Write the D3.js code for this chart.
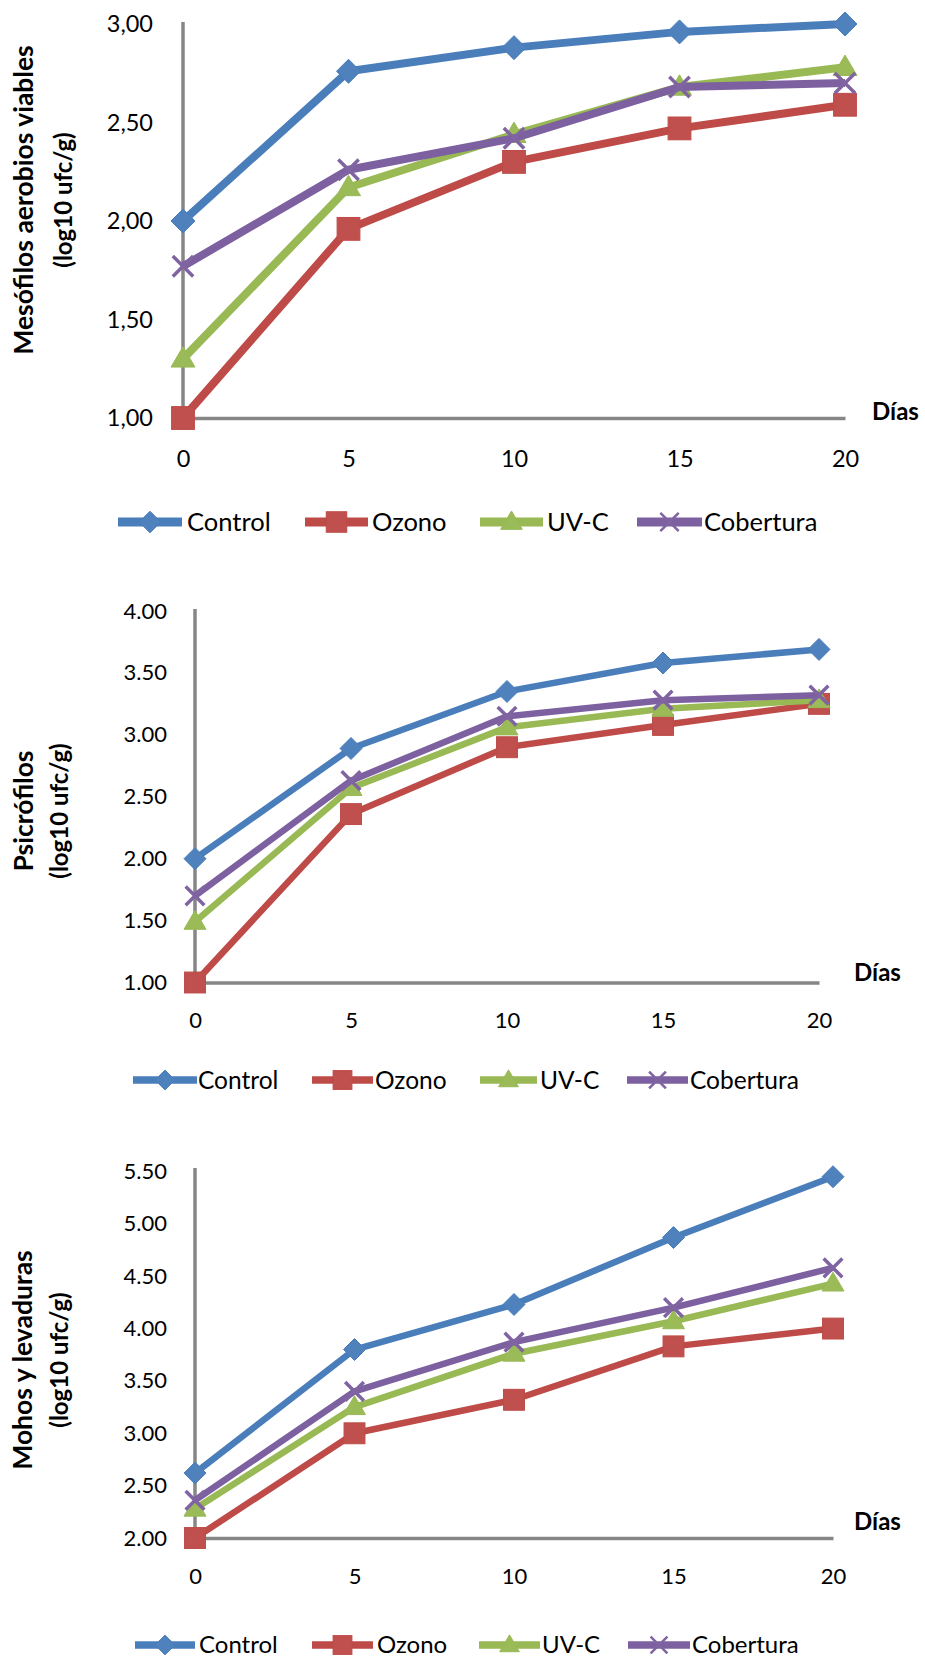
<!DOCTYPE html>
<html>
<head>
<meta charset="utf-8">
<script src="https://cdn.jsdelivr.net/npm/d3@7"></script>
<style>
  body { margin: 0; background: #fff; }
  svg text { font-family: Lato, "Open Sans", sans-serif; fill: #000; }
</style>
</head>
<body>
<div id="chart"></div>
<script>
// x values (días) and series names
const dias = [0, 5, 10, 15, 20];
const seriesNames = ["Control", "Ozono", "UV-C", "Cobertura"];

// Mesófilos aerobios viables
const mesoControl = [2.00, 2.76, 2.88, 2.96, 3.00];
const mesoOzono = [1.00, 1.96, 2.30, 2.47, 2.59];
const mesoUVC = [1.30, 2.17, 2.44, 2.68, 2.78];
const mesoCobertura = [1.77, 2.26, 2.42, 2.68, 2.70];

// Psicrófilos
const psicControl = [2.00, 2.89, 3.35, 3.58, 3.69];
const psicOzono = [1.00, 2.36, 2.90, 3.08, 3.25];
const psicUVC = [1.49, 2.57, 3.06, 3.21, 3.28];
const psicCobertura = [1.70, 2.63, 3.15, 3.28, 3.32];

// Mohos y levaduras
const mohoControl = [2.62, 3.80, 4.23, 4.87, 5.45];
const mohoOzono = [2.00, 3.00, 3.32, 3.83, 4.00];
const mohoUVC = [2.28, 3.25, 3.76, 4.07, 4.43];
const mohoCobertura = [2.36, 3.40, 3.87, 4.20, 4.58];

// tick values
const mesoTicks = [1.0, 1.5, 2.0, 2.5, 3.0];
const psicTicks = [1.0, 1.5, 2.0, 2.5, 3.0, 3.5, 4.0];
const mohoTicks = [2.0, 2.5, 3.0, 3.5, 4.0, 4.5, 5.0, 5.5];

const colors = ["#4a7ebb", "#be4b48", "#98b954", "#7d60a0"];
const markerFill = ["#4f81bd", "#c0504d", "#9bbb59", "#8064a2"];
const markers = ["diamond", "square", "triangle", "cross"];

const width = 925, height = 1659;

const svg = d3.select("#chart").append("svg")
    .attr("width", width)
    .attr("height", height);

const charts = [
    {
        title: ["Mesófilos aerobios viables", "(log10 ufc/g)"],
        data: [mesoControl, mesoOzono, mesoUVC, mesoCobertura],
        ticks: mesoTicks, comma: true,
        x0: 183, x1: 845, yTop: 24, yBot: 418, axisTop: 22,
        tickFont: 23.5, tickPad: 30, xLabelY: 459,
        diasX: 872, diasY: 420,
        titleX: [23, 62], titleY: 200,
        lineW: 8, mk: 24,
        legY: 522, legFont: 25.5,
        leg: [[118, 182, 187], [305, 368, 372], [480, 543, 547], [637, 702, 704]]
    },
    {
        title: ["Psicrófilos", "(log10 ufc/g)"],
        data: [psicControl, psicOzono, psicUVC, psicCobertura],
        ticks: psicTicks, comma: false,
        x0: 195, x1: 819, yTop: 611, yBot: 982.5, axisTop: 609,
        tickFont: 22, tickPad: 28, xLabelY: 1020,
        diasX: 854, diasY: 981,
        titleX: [23, 58], titleY: 811,
        lineW: 6.5, mk: 22,
        legY: 1080, legFont: 24.5,
        leg: [[133, 197, 198], [312, 373, 375], [480, 537, 540], [627, 688, 690]]
    },
    {
        title: ["Mohos y levaduras", "(log10 ufc/g)"],
        data: [mohoControl, mohoOzono, mohoUVC, mohoCobertura],
        ticks: mohoTicks, comma: false,
        x0: 195, x1: 833, yTop: 1171.5, yBot: 1538, axisTop: 1168,
        tickFont: 22, tickPad: 28, xLabelY: 1576,
        diasX: 854, diasY: 1530,
        titleX: [22, 58], titleY: 1360,
        lineW: 6.5, mk: 22,
        legY: 1645, legFont: 24,
        leg: [[135, 195, 199], [312, 373, 377], [479, 540, 542], [628, 690, 692]]
    }
];

const titleFont = [26.5, 24];

function drawMarker(g, type, cx, cy, size, i, sw) {
    const h = size / 2;
    if (type == "diamond") {
        g.append("path")
            .attr("d", `M${cx},${cy - h}L${cx + h},${cy}L${cx},${cy + h}L${cx - h},${cy}Z`)
            .attr("fill", markerFill[i]).attr("stroke", colors[i]).attr("stroke-width", 1);
    } else if (type == "square") {
        const s = h * 0.95;
        g.append("rect")
            .attr("x", cx - s).attr("y", cy - s)
            .attr("width", 2 * s).attr("height", 2 * s)
            .attr("fill", markerFill[i]).attr("stroke", colors[i]).attr("stroke-width", 1);
    } else if (type == "triangle") {
        const th = size * 0.85;
        g.append("path")
            .attr("d", `M${cx},${cy - th * 0.6}L${cx + h},${cy + th * 0.4}L${cx - h},${cy + th * 0.4}Z`)
            .attr("fill", markerFill[i]).attr("stroke", colors[i]).attr("stroke-width", 1);
    } else {
        const c = h * 0.85;
        g.append("path")
            .attr("d", `M${cx - c},${cy - c}L${cx + c},${cy + c}M${cx - c},${cy + c}L${cx + c},${cy - c}`)
            .attr("fill", "none").attr("stroke", markerFill[i]).attr("stroke-width", sw || 3.5);
    }
}

charts.forEach(function(c) {
    const g = svg.append("g");

    const x = d3.scaleLinear().domain([0, 20]).range([c.x0, c.x1]);
    const y = d3.scaleLinear().domain([c.ticks[0], c.ticks[c.ticks.length - 1]]).range([c.yBot, c.yTop]);

    const fmt = c.comma ? (d => d3.format(".2f")(d).replace(".", ",")) : d3.format(".2f");

    // y axis
    const yAxis = g.append("g")
        .attr("transform", "translate(" + c.x0 + ",0)")
        .call(d3.axisLeft(y).tickValues(c.ticks).tickSize(0).tickSizeOuter(0).tickPadding(c.tickPad).tickFormat(fmt));
    yAxis.select(".domain").remove();
    yAxis.selectAll("text").attr("font-size", c.tickFont).attr("font-family", "Lato").attr("fill", "#000");

    g.append("line")
        .attr("x1", c.x0).attr("x2", c.x0)
        .attr("y1", c.axisTop).attr("y2", c.yBot + 1.5)
        .attr("stroke", "#868686").attr("stroke-width", 3.5);

    // x axis
    const xAxis = g.append("g")
        .attr("transform", "translate(0," + c.yBot + ")")
        .call(d3.axisBottom(x).tickValues(dias).tickSize(0).tickSizeOuter(0).tickFormat(d3.format("d")));
    xAxis.select(".domain").attr("stroke", "#868686").attr("stroke-width", 3.5);
    xAxis.selectAll("text")
        .attr("y", c.xLabelY - c.yBot)
        .attr("dy", "0.35em")
        .attr("font-size", c.tickFont).attr("font-family", "Lato").attr("fill", "#000");

    // Días label
    g.append("text")
        .attr("x", c.diasX).attr("y", c.diasY)
        .attr("font-size", 24).attr("font-weight", "bold")
        .text("Días");

    // y title
    c.title.forEach(function(t, k) {
        g.append("text")
            .attr("transform", "translate(" + c.titleX[k] + "," + c.titleY + ") rotate(-90)")
            .attr("text-anchor", "middle")
            .attr("dominant-baseline", "central")
            .attr("font-size", titleFont[k]).attr("font-weight", "bold")
            .text(t);
    });

    // series
    const line = d3.line()
        .x((d, j) => x(dias[j]))
        .y(d => y(d));

    c.data.forEach(function(vals, i) {
        g.append("path")
            .datum(vals)
            .attr("d", line)
            .attr("fill", "none")
            .attr("stroke", colors[i])
            .attr("stroke-width", c.lineW)
            .attr("stroke-linejoin", "round");
        vals.forEach(function(v, j) {
            drawMarker(g, markers[i], x(dias[j]), y(v), c.mk, i);
        });
    });

    // legend
    seriesNames.forEach(function(name, i) {
        const l = c.leg[i];
        g.append("line")
            .attr("x1", l[0]).attr("x2", l[1])
            .attr("y1", c.legY).attr("y2", c.legY)
            .attr("stroke", colors[i]).attr("stroke-width", c.lineW + 1);
        drawMarker(g, markers[i], (l[0] + l[1]) / 2, c.legY, c.mk * 0.9, i, 2.5);
        g.append("text")
            .attr("x", l[2]).attr("y", c.legY)
            .attr("dy", "0.35em")
            .attr("font-size", c.legFont)
            .text(name);
    });
});
</script>
</body>
</html>
